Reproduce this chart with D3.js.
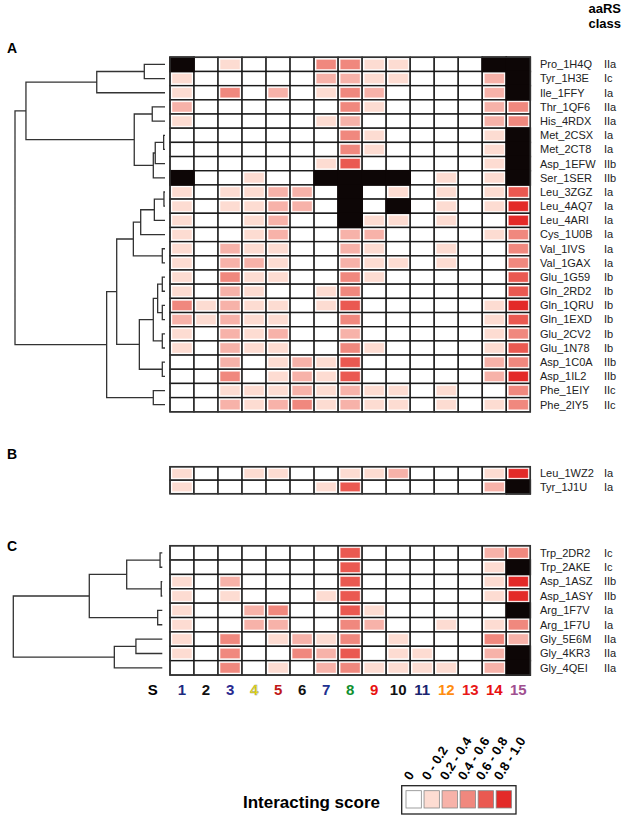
<!DOCTYPE html>
<html>
<head>
<meta charset="utf-8">
<script src="https://cdn.jsdelivr.net/npm/d3@7"></script>
<style>
  body { margin: 0; background: #fff; }
  text { font-family: "Liberation Sans", Arial, sans-serif; }
</style>
</head>
<body>
<svg id="chart" width="624" height="818"></svg>
<script>
// interaction sites (columns) and their label colours
const columns = [1, 2, 3, 4, 5, 6, 7, 8, 9, 10, 11, 12, 13, 14, 15];
const columnColors = ["#1c2a80", "#111", "#2a2a90", "#e8dc00", "#c01818", "#111", "#203090",
  "#109030", "#e81010", "#111", "#1a2470", "#ff8c10", "#e81818", "#e81010", "#a05090"];

// score classes: -1 = no data (black), 0 = 0, 1 = 0-0.2 ... 5 = 0.8-1.0
const X = -1;

const rowsA = ["Pro_1H4Q", "Tyr_1H3E", "Ile_1FFY", "Thr_1QF6", "His_4RDX", "Met_2CSX", "Met_2CT8",
  "Asp_1EFW", "Ser_1SER", "Leu_3ZGZ", "Leu_4AQ7", "Leu_4ARI", "Cys_1U0B", "Val_1IVS", "Val_1GAX",
  "Glu_1G59", "Gln_2RD2", "Gln_1QRU", "Gln_1EXD", "Glu_2CV2", "Glu_1N78", "Asp_1C0A", "Asp_1IL2",
  "Phe_1EIY", "Phe_2IY5"];
const classA = ["IIa", "Ic", "Ia", "IIa", "IIa", "Ia", "Ia", "IIb", "IIb", "Ia", "Ia", "Ia", "Ia",
  "Ia", "Ia", "Ib", "Ib", "Ib", "Ib", "Ib", "Ib", "IIb", "IIb", "IIc", "IIc"];
const scoresA = [
  [X, 0, 1, 0, 0, 0, 3, 3, 1, 1, 0, 0, 0, X, X],
  [1, 0, 0, 0, 0, 0, 2, 2, 1, 1, 0, 0, 0, 2, X],
  [1, 0, 3, 0, 2, 0, 1, 3, 2, 0, 0, 0, 0, 2, X],
  [2, 0, 0, 0, 0, 0, 0, 3, 1, 0, 0, 0, 0, 2, 3],
  [1, 0, 0, 0, 0, 0, 1, 2, 0, 0, 0, 0, 0, 2, 3],
  [0, 0, 0, 0, 0, 0, 0, 3, 1, 0, 0, 0, 0, 1, X],
  [0, 0, 0, 0, 0, 0, 0, 3, 1, 0, 0, 0, 0, 1, X],
  [0, 0, 0, 0, 0, 0, 1, 4, 0, 0, 0, 0, 0, 1, X],
  [X, 0, 0, 1, 0, 0, X, X, X, X, 0, 1, 0, 1, X],
  [1, 0, 1, 1, 2, 2, 0, X, 0, 1, 0, 1, 0, 1, 4],
  [1, 0, 1, 1, 2, 2, 0, X, 0, X, 0, 1, 0, 1, 5],
  [1, 0, 0, 1, 2, 0, 0, X, 1, 1, 0, 1, 0, 0, 5],
  [1, 0, 0, 1, 2, 0, 0, 2, 2, 0, 0, 0, 0, 1, 3],
  [1, 0, 2, 1, 1, 0, 0, 2, 1, 0, 0, 1, 0, 0, 3],
  [1, 0, 2, 2, 1, 0, 0, 2, 1, 1, 0, 1, 0, 0, 3],
  [1, 0, 3, 1, 1, 0, 0, 3, 1, 0, 0, 0, 0, 0, 4],
  [1, 0, 2, 1, 0, 0, 1, 3, 0, 0, 0, 0, 0, 0, 4],
  [3, 1, 2, 1, 1, 0, 1, 4, 0, 0, 0, 0, 0, 1, 5],
  [2, 1, 2, 1, 1, 0, 0, 3, 0, 0, 0, 0, 0, 1, 4],
  [1, 0, 2, 1, 2, 0, 0, 2, 0, 0, 0, 0, 0, 1, 3],
  [1, 0, 2, 1, 1, 0, 0, 3, 1, 0, 0, 0, 0, 1, 4],
  [0, 0, 2, 0, 1, 2, 1, 4, 0, 0, 0, 0, 0, 2, 3],
  [0, 0, 3, 0, 1, 2, 1, 4, 0, 0, 0, 0, 0, 2, 5],
  [0, 0, 1, 1, 1, 2, 1, 2, 1, 1, 0, 1, 0, 0, 3],
  [0, 0, 2, 1, 2, 3, 1, 2, 1, 1, 0, 1, 0, 1, 3]
];
// hclust style merges: negative = leaf (1-based row), positive = earlier merge; last = height
const mergesA = [
  [-1, -2, 0.138], [1, -3, 0.455], [-4, -5, 0.085], [-6, -7, 0.009], [4, -8, 0.065],
  [5, -9, 0.078], [3, 6, 0.205], [2, 7, 0.927], [-10, -11, 0.007], [9, -12, 0.071],
  [10, -13, 0.162], [-14, -15, 0.018], [11, 12, 0.211], [-16, -17, 0.018], [-18, -19, 0.018],
  [14, 15, 0.049], [-20, -21, 0.018], [16, 17, 0.078], [-22, -23, 0.018], [18, 19, 0.171],
  [13, 20, 0.322], [-24, -25, 0.078], [21, 22, 0.389], [8, 23, 1.0]
];

const rowsB = ["Leu_1WZ2", "Tyr_1J1U"];
const classB = ["Ia", "Ia"];
const scoresB = [
  [1, 0, 0, 1, 1, 0, 0, 1, 1, 2, 0, 0, 0, 1, 5],
  [1, 0, 0, 0, 0, 0, 1, 4, 0, 0, 0, 0, 0, 2, X]
];

const rowsC = ["Trp_2DR2", "Trp_2AKE", "Asp_1ASZ", "Asp_1ASY", "Arg_1F7V", "Arg_1F7U",
  "Gly_5E6M", "Gly_4KR3", "Gly_4QEI"];
const classC = ["Ic", "Ic", "IIb", "IIb", "Ia", "Ia", "IIa", "IIa", "IIa"];
const scoresC = [
  [0, 0, 0, 0, 0, 0, 0, 4, 0, 0, 0, 0, 0, 2, 3],
  [0, 0, 0, 0, 0, 0, 0, 4, 0, 0, 0, 0, 0, 1, X],
  [1, 0, 2, 0, 0, 0, 0, 4, 0, 0, 0, 0, 0, 1, 5],
  [1, 0, 1, 0, 0, 0, 1, 4, 0, 0, 0, 0, 0, 1, 5],
  [1, 0, 0, 2, 3, 0, 0, 4, 1, 0, 0, 0, 0, 0, X],
  [1, 0, 0, 2, 2, 0, 0, 3, 2, 0, 0, 1, 0, 1, 3],
  [1, 0, 3, 0, 1, 2, 1, 3, 0, 1, 0, 0, 0, 3, 2],
  [1, 0, 3, 0, 0, 3, 2, 4, 0, 1, 1, 0, 0, 2, X],
  [0, 0, 3, 0, 1, 0, 2, 3, 1, 1, 1, 1, 0, 2, X]
];
const mergesC = [
  [-1, -2, 0.015], [-3, -4, 0.007], [1, 2, 0.239], [-5, -6, 0.031],
  [3, 4, 0.49], [-7, -8, 0.177], [6, -9, 0.322], [5, 7, 1.0]
];

const legendLevels = [0, 1, 2, 3, 4, 5];
const legendLabels = ["0", "0 - 0.2", "0.2 - 0.4", "0.4 - 0.6", "0.6 - 0.8", "0.8 - 1.0"];
const levelColors = ["#ffffff", "#fddcd2", "#f7b2a9", "#f0887e", "#ea5951", "#e32a28"];

const svg = d3.select("#chart");

const x = d3.scaleBand().domain(columns).range([170, 530.3]);
const color = d3.scaleOrdinal().domain(legendLevels).range(levelColors);

const heatmap = (rows, classes, scores, top, rowH) => {
  const y = d3.scaleBand().domain(rows).range([top, top + rows.length * rowH]);
  const g = svg.append("g");
  const cells = [];
  scores.forEach((r, i) => r.forEach((v, j) => cells.push({ row: rows[i], col: columns[j], v: v })));

  g.selectAll("rect.cell").data(cells).join("rect")
      .attr("class", "cell")
      .attr("x", d => x(d.col))
      .attr("y", d => y(d.row))
      .attr("width", x.bandwidth())
      .attr("height", y.bandwidth())
      .attr("fill", "#fff")
      .attr("stroke", "#1a1a1a")
      .attr("stroke-width", 1.4);

  g.selectAll("rect.fill").data(cells.filter(d => d.v > 0)).join("rect")
      .attr("class", "fill")
      .attr("x", d => x(d.col) + 2)
      .attr("y", d => y(d.row) + 2)
      .attr("width", x.bandwidth() - 4)
      .attr("height", y.bandwidth() - 4)
      .attr("fill", d => color(d.v))
      .attr("stroke", "#fff")
      .attr("stroke-opacity", 0.6)
      .attr("stroke-width", 0.8);

  g.selectAll("rect.na").data(cells.filter(d => d.v < 0)).join("rect")
      .attr("class", "na")
      .attr("x", d => x(d.col) - 0.8)
      .attr("y", d => y(d.row) - 0.8)
      .attr("width", x.bandwidth() + 1.6)
      .attr("height", y.bandwidth() + 1.6)
      .attr("fill", "#0d0606");

  g.append("rect")
      .attr("x", x.range()[0])
      .attr("y", top)
      .attr("width", x.range()[1] - x.range()[0])
      .attr("height", rows.length * rowH)
      .attr("fill", "none")
      .attr("stroke", "#333")
      .attr("stroke-width", 1.5);

  g.selectAll("text.name").data(rows).join("text")
      .attr("class", "name")
      .attr("x", 540)
      .attr("y", d => y(d) + y.bandwidth() / 2)
      .attr("dy", "0.35em")
      .style("font-size", "11px")
      .style("fill", "#222")
      .text(d => d);

  g.selectAll("text.cls").data(classes).join("text")
      .attr("class", "cls")
      .attr("x", 604)
      .attr("y", (d, i) => y(rows[i]) + y.bandwidth() / 2)
      .attr("dy", "0.35em")
      .style("font-size", "11px")
      .style("fill", "#222")
      .text(d => d);

  return y;
};

const dendrogram = (merges, y, rows, xLeaf, xRoot) => {
  const h = d3.scaleLinear().domain([0, 1]).range([xLeaf, xRoot]);
  const nodes = [];
  const pos = c => c < 0
    ? { x: h(0), y: y(rows[-c - 1]) + y.bandwidth() / 2 }
    : nodes[c - 1];
  let d = "";
  merges.forEach(m => {
    const a = pos(m[0]), b = pos(m[1]);
    const nx = h(m[2]);
    d += `M${a.x},${a.y}H${nx}V${b.y}H${b.x}`;
    nodes.push({ x: nx, y: (a.y + b.y) / 2 });
  });
  svg.append("path")
      .attr("d", d)
      .attr("fill", "none")
      .attr("stroke", "#333")
      .attr("stroke-width", 1.3);
};

const yA = heatmap(rowsA, classA, scoresA, 57.3, 14.18);
heatmap(rowsB, classB, scoresB, 466.7, 13.5);
const yC = heatmap(rowsC, classC, scoresC, 545.7, 14.37);

dendrogram(mergesA, yA, rowsA, 165, 15);
dendrogram(mergesC, yC, rowsC, 162.3, 13.3);

// panel letters
[["A", 53], ["B", 459], ["C", 551]].forEach(p => {
  svg.append("text")
      .attr("x", 7)
      .attr("y", p[1])
      .style("font-size", "14px")
      .style("font-weight", "bold")
      .text(p[0]);
});

// header
svg.append("text").attr("x", 621).attr("y", 13).attr("text-anchor", "end")
    .style("font-size", "13px").style("font-weight", "bold").text("aaRS");
svg.append("text").attr("x", 621).attr("y", 27.5).attr("text-anchor", "end")
    .style("font-size", "13px").style("font-weight", "bold").text("class");

// column labels
svg.selectAll("text.colnum").data(columns).join("text")
    .attr("class", "colnum")
    .attr("x", d => x(d) + x.bandwidth() / 2)
    .attr("y", 695)
    .attr("text-anchor", "middle")
    .style("font-size", "15px")
    .style("font-weight", "bold")
    .style("fill", (d, i) => columnColors[i])
    .style("stroke", (d, i) => i === 3 ? "#999" : "none")
    .style("stroke-width", 0.4)
    .text(d => d);

svg.append("text")
    .attr("x", 152.7)
    .attr("y", 695)
    .attr("text-anchor", "middle")
    .style("font-size", "15px")
    .style("font-weight", "bold")
    .text("S");

// legend
const lx = d3.scaleBand().domain(legendLevels).range([406, 511.5]).paddingInner(0.15);
const lg = svg.append("g");
lg.append("rect")
    .attr("x", 401.7).attr("y", 785.7)
    .attr("width", 114.3).attr("height", 28.3)
    .attr("fill", "#fff").attr("stroke", "#222").attr("stroke-width", 1.3);
lg.selectAll("rect.sw").data(legendLevels).join("rect")
    .attr("class", "sw")
    .attr("x", d => lx(d))
    .attr("y", 790.7)
    .attr("width", lx.bandwidth())
    .attr("height", 17.3)
    .attr("fill", d => color(d))
    .attr("stroke", "#888")
    .attr("stroke-width", 0.8);
lg.selectAll("text.lab").data(legendLevels).join("text")
    .attr("class", "lab")
    .attr("transform", d => `translate(${lx(d) + lx.bandwidth() / 2 - 3},781) rotate(-58)`)
    .style("font-size", "13px")
    .style("font-weight", "bold")
    .text((d, i) => legendLabels[i]);
lg.append("text")
    .attr("x", 243)
    .attr("y", 807.5)
    .style("font-size", "17px")
    .style("font-weight", "bold")
    .text("Interacting score");
</script>
</body>
</html>
